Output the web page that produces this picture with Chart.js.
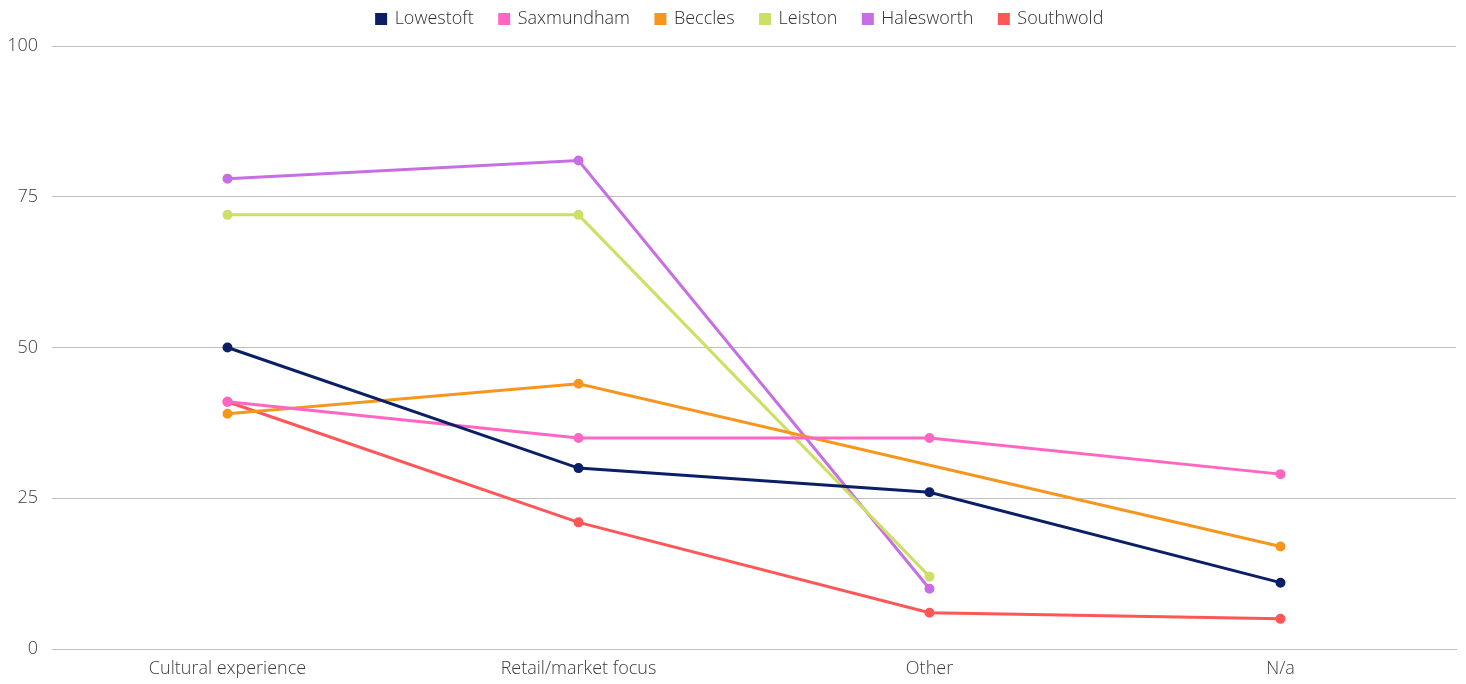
<!DOCTYPE html>
<html>
<head>
	<meta charset="utf-8"/>
	<title>Town visit reasons</title>
	<script src="https://cdn.jsdelivr.net/npm/chart.js"></script>
	<style>
		html,body{margin:0;padding:0;background:#fff;}
		#wrap{width:1466px;height:684px;}
	</style>
</head>
<body>
	<div id="wrap"><canvas id="townChart"></canvas></div>
	<script>
	// categories and series values (percent)
	const categories = ["Cultural experience", "Retail/market focus", "Other", "N/a"];
	const lowestoft  = [50, 30, 26, 11];
	const saxmundham = [41, 35, 35, 29];
	const beccles    = [39, 44, null, 17];
	const leiston    = [72, 72, 12, null];
	const halesworth = [78, 81, 10, null];
	const southwold  = [41, 21, 6, 5];
	const yTicks     = [0, 25, 50, 75, 100];

	const series = [
		["Lowestoft", lowestoft, "#0b1f66"],
		["Saxmundham", saxmundham, "#ff66c4"],
		["Beccles", beccles, "#f7961f"],
		["Leiston", leiston, "#cde065"],
		["Halesworth", halesworth, "#c86ee4"],
		["Southwold", southwold, "#ff5757"]
	];

	Chart.defaults.font.family = "'Open Sans', sans-serif";
	Chart.defaults.font.size = 18;
	Chart.defaults.font.weight = 300;

	// extra gap under the legend, and nudge it to the page centre
	const legendGap = {
		id: "legendGap",
		beforeInit: function(chart){
			const legend = chart.legend;
			const fit = legend.fit;
			legend.fit = function(){
				fit.bind(legend)();
				this.height += 8;
			};
			const draw = legend.draw;
			legend.draw = function(){
				this.ctx.save();
				this.ctx.translate(8, 0);
				draw.bind(legend)();
				this.ctx.restore();
			};
		}
	};

	new Chart(document.getElementById("townChart"), {
		type: "line",
		data: {
			labels: categories,
			datasets: series.map(function(s){
				return {
					label: s[0],
					data: s[1],
					borderColor: s[2],
					backgroundColor: s[2],
					borderWidth: 3,
					pointRadius: 3.5,
					pointHoverRadius: 5,
					tension: 0,
					spanGaps: true
				};
			})
		},
		plugins: [legendGap],
		options: {
			responsive: true,
			maintainAspectRatio: false,
			animation: false,
			layout: { padding: { left: 8, right: 10, top: -16, bottom: 0 } },
			plugins: {
				legend: {
					position: "top",
					labels: {
						usePointStyle: true,
						pointStyle: "rect",
						boxWidth: 9,
						boxHeight: 9,
						padding: 26,
						color: "#2e2e2e",
						font: { size: 18, weight: 300 }
					}
				},
				tooltip: { enabled: true }
			},
			scales: {
				x: {
					offset: true,
					grid: { display: false, drawTicks: false },
					border: { display: true, color: "#bfbfbf", width: 1 },
					ticks: { color: "#3c3c3c", padding: 9, font: { size: 18, weight: 300 } },
					afterFit: function(axis){ axis.height = 35; }
				},
				y: {
					min: 0,
					max: 100,
					afterBuildTicks: function(axis){
						axis.ticks = yTicks.map(function(v){ return { value: v }; });
					},
					grid: { color: "#bfbfbf", lineWidth: 1, drawTicks: false },
					border: { display: false },
					ticks: { color: "#3c3c3c", padding: 14, font: { size: 18, weight: 300 } },
					afterFit: function(axis){ axis.width = 44; }
				}
			}
		}
	});
	</script>
</body>
</html>
